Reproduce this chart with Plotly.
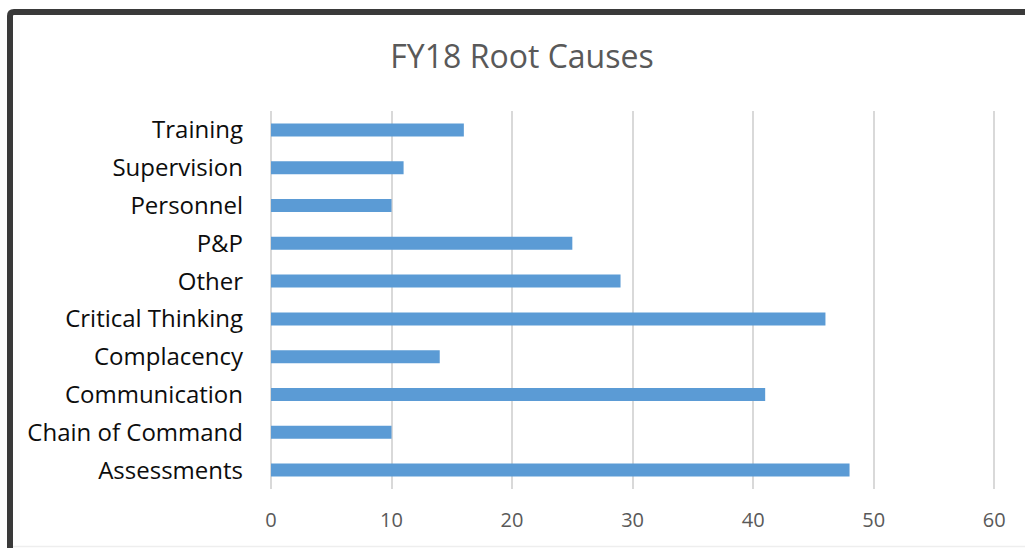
import plotly.graph_objects as go

categories = ["Assessments", "Chain of Command", "Communication", "Complacency",
              "Critical Thinking", "Other", "P&P", "Personnel", "Supervision", "Training"]
values = [48, 10, 41, 14, 46, 29, 25, 10, 11, 16]
x_ticks = [0, 10, 20, 30, 40, 50, 60]
title_text = "FY18 Root Causes"

W, H = 1025, 548
L, R, T, B = 271, 29, 111, 59
pw, ph = W - L - R, H - T - B

def px(x):
    return (x - L) / pw

def py(y):
    return (H - B - y) / ph

fig = go.Figure(go.Bar(
    y=categories, x=values, orientation="h",
    marker=dict(color="#5b9bd5", line=dict(width=0)),
    hoverinfo="x+y",
))

font = "Open Sans, Arial, sans-serif"

border_path = (f"M {px(10)},{py(560)} L {px(10)},{py(16)} "
               f"Q {px(10)},{py(12)} {px(14)},{py(12)} L {px(1040)},{py(12)}")

fig.update_layout(
    width=W, height=H,
    margin=dict(l=L, r=R, t=T, b=B, pad=0),
    paper_bgcolor="white", plot_bgcolor="white",
    bargap=0.655,
    showlegend=False,
    title=dict(text=title_text, x=522 / W, xref="container", xanchor="center",
               y=1 - 57 / H, yref="container", yanchor="middle",
               font=dict(family=font, size=32, color="#595959")),
    xaxis=dict(range=[0, 60.15], tickvals=x_ticks, showgrid=True, gridcolor="#d9d9d9",
               gridwidth=1.5, zeroline=True, zerolinecolor="#d9d9d9", zerolinewidth=1.5,
               showline=False, ticks="",
               tickfont=dict(family=font, size=20, color="#595959"),
               ticklabelstandoff=17, fixedrange=True),
    yaxis=dict(categoryorder="array", categoryarray=categories, showgrid=False,
               zeroline=False, showline=False, ticks="",
               tickfont=dict(family=font, size=24, color="#0d0d0d"),
               ticklabelstandoff=27, fixedrange=True),
    shapes=[
        dict(type="path", xref="paper", yref="paper", path=border_path,
             line=dict(color="#3a3a3a", width=6), layer="above"),
        dict(type="line", xref="paper", yref="paper", x0=px(13), x1=px(1030),
             y0=py(546.5), y1=py(546.5), line=dict(color="#eeeeee", width=1.5)),
    ],
)

fig.write_html("out.html")
